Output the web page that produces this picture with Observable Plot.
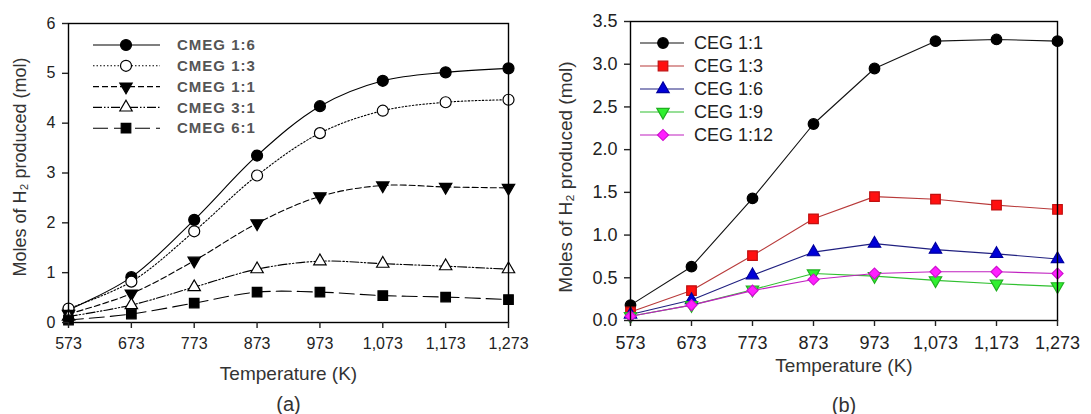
<!DOCTYPE html>
<html><head><meta charset="utf-8">
<script src="https://cdn.jsdelivr.net/npm/d3@7"></script>
<script src="https://cdn.jsdelivr.net/npm/@observablehq/plot@0.6"></script>
<style>
body{margin:0;background:#fff}
#wrap{display:flex;width:1091px;height:414px;background:#fff}
#wrap svg{display:block}
</style>
</head><body><div id="wrap"></div>
<script>
// ---- data ----
const temps = [573, 673, 773, 873, 973, 1073, 1173, 1273];
const xTickLabels = ["573","673","773","873","973","1,073","1,173","1,273"];

const cmegNames = ["CMEG 1:6", "CMEG 1:3", "CMEG 1:1", "CMEG 3:1", "CMEG 6:1"];
const cmeg16 = [0.25, 0.91, 2.06, 3.35, 4.34, 4.85, 5.02, 5.10];
const cmeg13 = [0.28, 0.82, 1.83, 2.95, 3.80, 4.25, 4.42, 4.47];
const cmeg11 = [0.17, 0.58, 1.24, 1.99, 2.53, 2.75, 2.72, 2.70];
const cmeg31 = [0.12, 0.35, 0.71, 1.07, 1.23, 1.18, 1.13, 1.07];
const cmeg61 = [0.05, 0.17, 0.39, 0.61, 0.61, 0.54, 0.51, 0.46];
const yTicksA = [0, 1, 2, 3, 4, 5, 6];

const cegNames = ["CEG 1:1", "CEG 1:3", "CEG 1:6", "CEG 1:9", "CEG 1:12"];
const ceg11 = [0.18, 0.63, 1.43, 2.30, 2.95, 3.27, 3.29, 3.27];
const ceg13 = [0.10, 0.35, 0.76, 1.19, 1.45, 1.42, 1.35, 1.30];
const ceg16 = [0.07, 0.24, 0.53, 0.80, 0.90, 0.83, 0.78, 0.72];
const ceg19 = [0.05, 0.18, 0.36, 0.55, 0.52, 0.47, 0.43, 0.40];
const ceg112 = [0.05, 0.18, 0.35, 0.48, 0.55, 0.57, 0.57, 0.55];
const yTicksB = [0, 0.5, 1.0, 1.5, 2.0, 2.5, 3.0, 3.5];

const yLabel = "Moles of H\u2082 produced (mol)";
const xLabel = "Temperature (K)";

// ---- styles ----
const FONT = "'Liberation Sans', Arial, Helvetica, sans-serif";
const stylesA = [
  {dash: null, symbol: "circle", r: 5.5, fill: "black", stroke: "black", rotate: 0},
  {dash: "1.5,2", symbol: "circle", r: 5.5, fill: "white", stroke: "black", rotate: 0},
  {dash: "6,3", symbol: "triangle", r: 4.6, fill: "black", stroke: "black", rotate: 180},
  {dash: "9,2,1.5,2,1.5,2", symbol: "triangle", r: 4.6, fill: "white", stroke: "black", rotate: 0},
  {dash: "15,6", symbol: "square", r: 5.4, fill: "black", stroke: "black", rotate: 0}
];
const stylesB = [
  {line: "#111", symbol: "circle", r: 5.3, fill: "black", stroke: "black", rotate: 0},
  {line: "#b83a3a", symbol: "square", r: 5.4, fill: "#ff1010", stroke: "#c01010", rotate: 0},
  {line: "#202080", symbol: "triangle", r: 4.6, fill: "#0000d8", stroke: "#0000a0", rotate: 0},
  {line: "#30c030", symbol: "triangle", r: 4.6, fill: "#30f030", stroke: "#20b020", rotate: 180},
  {line: "#c020c0", symbol: "square", r: 4.4, fill: "#ff20ff", stroke: "#d010d0", rotate: 45}
];

function rowsOf(names, arrays) {
  return names.map((name, i) => temps.map((t, j) => ({series: name, t, v: arrays[i][j]})));
}
const rowsA = rowsOf(cmegNames, [cmeg16, cmeg13, cmeg11, cmeg31, cmeg61]);
const rowsB = rowsOf(cegNames, [ceg11, ceg13, ceg16, ceg19, ceg112]);

function symPath(s) {
  const types = {circle: d3.symbolCircle, square: d3.symbolSquare, triangle: d3.symbolTriangle};
  return d3.symbol(types[s.symbol], s.r * s.r * Math.PI)();
}

function addLegend(svg, names, styles, cfg) {
  const g = d3.select(svg).append("g");
  names.forEach((name, i) => {
    const y = cfg.y0 + i * cfg.dy;
    const s = styles[i];
    g.append("line").attr("x1", cfg.x1).attr("x2", cfg.x2).attr("y1", y).attr("y2", y)
      .attr("stroke", s.line || "black").attr("stroke-width", 1.1)
      .attr("stroke-dasharray", s.dash || null);
    g.append("path").attr("d", symPath(s))
      .attr("transform", `translate(${cfg.xm},${y}) rotate(${s.rotate})`)
      .attr("fill", s.fill).attr("stroke", s.stroke).attr("stroke-width", 1.2);
    g.append("text").attr("x", cfg.xt).attr("y", y).attr("dy", "0.35em")
      .attr("text-anchor", "start")
      .attr("font-family", FONT).attr("font-size", cfg.fontSize)
      .attr("font-weight", cfg.weight).attr("letter-spacing", cfg.spacing)
      .attr("fill", cfg.color).text(name);
  });
}

function panel(cfg) {
  const marks = [];
  cfg.rows.forEach((rows, i) => {
    const s = cfg.styles[i];
    marks.push(Plot.line(rows, {x: "t", y: "v", curve: cfg.curve, stroke: s.line || "black",
      strokeWidth: 1.1, strokeDasharray: s.dash || undefined}));
  });
  cfg.rows.forEach((rows, i) => {
    const s = cfg.styles[i];
    marks.push(Plot.dot(rows, {x: "t", y: "v", symbol: s.symbol, r: s.r, fill: s.fill,
      stroke: s.stroke, strokeWidth: 1.2, rotate: s.rotate}));
  });
  marks.push(Plot.frame({stroke: "black", strokeWidth: 1.4}));
  marks.push(Plot.axisX({ticks: temps, tickFormat: (d) => xTickLabels[temps.indexOf(d)],
    tickSize: 6, tickPadding: cfg.xPad, fontSize: cfg.tickFont, label: null, strokeWidth: 1.4}));
  marks.push(Plot.axisY({ticks: cfg.yTicks, tickFormat: cfg.yFormat, tickSize: 6,
    tickPadding: 7, fontSize: cfg.yTickFont, label: null, strokeWidth: 1.4}));
  marks.push(Plot.text([xLabel], {frameAnchor: "bottom", lineAnchor: "middle", textAnchor: "middle",
    dy: cfg.xLabelDy, fontSize: cfg.labelFont, fill: "#333"}));
  marks.push(Plot.text([cfg.caption], {frameAnchor: "bottom", lineAnchor: "middle", textAnchor: "middle",
    dy: cfg.captionDy, fontSize: 20, fill: "#333"}));
  marks.push(Plot.text([yLabel], {frameAnchor: "left", rotate: -90, textAnchor: "middle", lineAnchor: "middle",
    dx: cfg.yLabelDx, dy: cfg.yLabelDy, fontSize: cfg.yLabelFont, fill: "#333"}));
  const svg = Plot.plot({
    width: cfg.width, height: 414,
    marginLeft: cfg.ml, marginRight: cfg.mr, marginTop: cfg.mt, marginBottom: cfg.mb,
    x: {domain: [573, 1273]},
    y: {domain: cfg.yDomain},
    style: {fontFamily: FONT, color: "#222", background: "white", overflow: "visible"},
    marks
  });
  return svg;
}

const svgA = panel({
  width: 545, ml: 68, mr: 37, mt: 23, mb: 92,
  rows: rowsA, styles: stylesA, curve: "catmull-rom",
  yDomain: [0, 6], yTicks: yTicksA, yFormat: d3.format("d"),
  xPad: 9, tickFont: 16, yTickFont: 16, labelFont: 19, yLabelFont: 18,
  xLabelDy: 51, captionDy: 82, caption: "(a)", yLabelDx: -48, yLabelDy: -6
});
addLegend(svgA, cmegNames, stylesA, {y0: 45, dy: 20.8, x1: 93, x2: 160, xm: 126, xt: 177,
  fontSize: 15, weight: 700, spacing: "1px", color: "#555"});

const svgB = panel({
  width: 546, ml: 85, mr: 34, mt: 21, mb: 94,
  rows: rowsB, styles: stylesB, curve: "linear",
  yDomain: [0, 3.5], yTicks: yTicksB, yFormat: d3.format(".1f"),
  xPad: 10, tickFont: 18, yTickFont: 18, labelFont: 19, yLabelFont: 19,
  xLabelDy: 45, captionDy: 85, caption: "(b)", yLabelDx: -65, yLabelDy: 6
});
addLegend(svgB, cegNames, stylesB, {y0: 43, dy: 23, x1: 640 - 545, x2: 684 - 545, xm: 663 - 545, xt: 694 - 545,
  fontSize: 18, weight: 400, spacing: "0px", color: "#222"});

document.getElementById("wrap").append(svgA, svgB);
</script>
</body></html>
